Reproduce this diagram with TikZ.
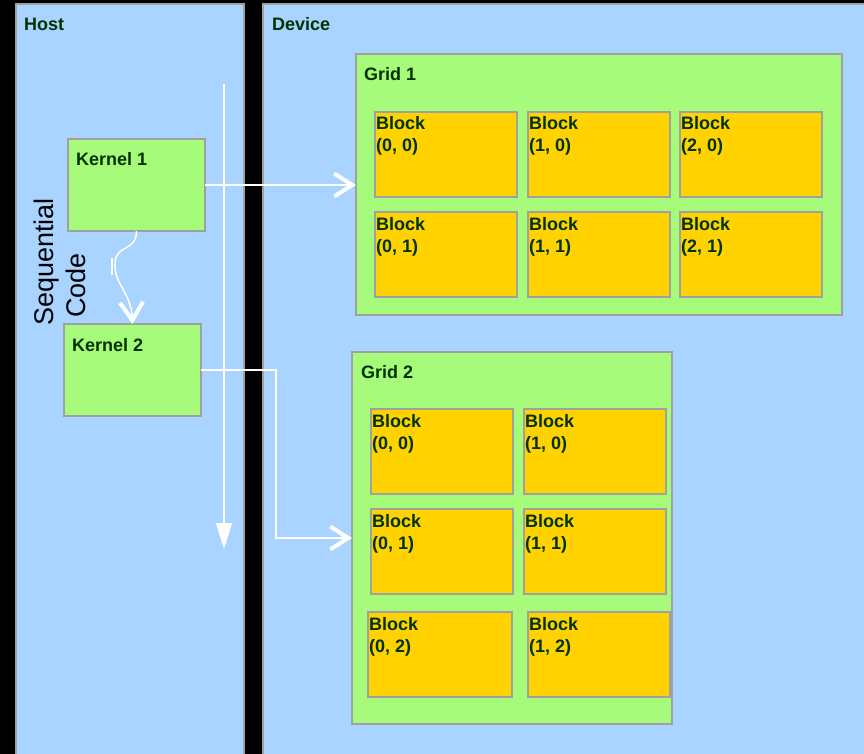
\documentclass[tikz,border=0pt]{standalone}
\usepackage{fontspec}
\setmainfont{Liberation Sans}
\usetikzlibrary{arrows.meta}

\definecolor{panelblue}{RGB}{168,212,255}
\definecolor{boxgreen}{RGB}{166,251,122}
\definecolor{blockyellow}{RGB}{255,210,0}
\definecolor{edgegray}{RGB}{160,160,160}
\definecolor{labelgreen}{RGB}{0,51,0}

\tikzset{
  framebox/.style={rectangle, draw=edgegray, line width=2pt, inner sep=0pt,
    outer sep=0pt, anchor=north west},
  panel/.style={framebox, fill=panelblue},
  greenbox/.style={framebox, fill=boxgreen},
  blockbox/.style={framebox, fill=blockyellow, minimum width=#1, minimum height=85pt},
  blockbox/.default=142pt,
  title/.style={font=\bfseries\fontsize{18}{22}\selectfont, text=labelgreen,
    anchor=base west, inner sep=0pt},
  blocklabel/.style={title, align=left},
  wire/.style={draw=white, line width=2pt},
  barb/.style={-{Straight Barb[length=18pt,width=23pt,line width=4pt]}},
}

% one CUDA block: name, x, y, width, index label
% (the label node's base is the baseline of its last line)
\newcommand\cudablock[5]{%
  \node[blockbox=#4] (#1) at (#2,#3) {};
  \node[blocklabel] (#1-t) at ([shift={(1,40)}]#1.north west) {Block\\#5};
}

\begin{document}
\begin{tikzpicture}[x=1pt,y=-1pt]
  \fill[black] (0,0) rectangle (864,754);
  \useasboundingbox (0,0) rectangle (864,754);

  % host and device panels
  \node[panel, minimum width=228pt, minimum height=770pt] (host) at (16,4) {};
  \node[panel, minimum width=620pt, minimum height=770pt] (device) at (263,4) {};
  \node[title] (host-t) at (24,31) {Host};
  \node[title] (device-t) at (272,31) {Device};

  % kernels on the host
  \node[greenbox, minimum width=137pt, minimum height=92pt] (k1) at (68,139) {};
  \node[title] (k1-t) at (76,166) {Kernel 1};
  \node[greenbox, minimum width=137pt, minimum height=92pt] (k2) at (64,324) {};
  \node[title] (k2-t) at (72,351) {Kernel 2};

  \node[rotate=90, anchor=base west, align=left, inner sep=0pt,
        font=\fontsize{27}{32}\selectfont] (seq) at (85,326)
        {Sequential\\\hspace*{8pt}Code};

  % grid 1
  \node[greenbox, minimum width=486pt, minimum height=261pt] (g1) at (356,54) {};
  \node[title] (g1-t) at (364,81) {Grid 1};
  \cudablock{g1b00}{375}{112}{142pt}{(0, 0)}
  \cudablock{g1b10}{528}{112}{142pt}{(1, 0)}
  \cudablock{g1b20}{680}{112}{142pt}{(2, 0)}
  \cudablock{g1b01}{375}{212}{142pt}{(0, 1)}
  \cudablock{g1b11}{528}{212}{142pt}{(1, 1)}
  \cudablock{g1b21}{680}{212}{142pt}{(2, 1)}

  % grid 2
  \node[greenbox, minimum width=320pt, minimum height=372pt] (g2) at (352,352) {};
  \node[title] (g2-t) at (361,378) {Grid 2};
  \cudablock{g2b00}{371}{409}{142pt}{(0, 0)}
  \cudablock{g2b10}{524}{409}{142pt}{(1, 0)}
  \cudablock{g2b01}{371}{509}{142pt}{(0, 1)}
  \cudablock{g2b11}{524}{509}{142pt}{(1, 1)}
  \cudablock{g2b02}{368}{612}{144pt}{(0, 2)}
  \cudablock{g2b12}{528}{612}{142pt}{(1, 2)}

  % host timeline
  \coordinate (tstart) at (224,84);
  \coordinate (tend) at (224,549);
  \draw[wire, -{Triangle[length=26pt,width=16pt]}] (tstart) -- (tend);

  % kernel launches
  \draw[wire, barb] (k1.east) -- (k1.east -| g1.west);
  \coordinate (turn) at (276,538);
  \draw[wire, barb] (k2.east) -| (turn) -- (turn -| g2.west);

  % sequential flow from kernel 1 to kernel 2
  \coordinate (mid) at (115,263);
  \draw[draw=white, line width=1.5pt,
        -{Straight Barb[length=18pt,width=23pt,line width=4pt]}]
    (k1.south) .. controls (136.5,252) and (116,244) .. (mid)
               .. controls (114,285) and (131,292) .. (k2.north);
  \coordinate (tickA) at (112,258);
  \coordinate (tickB) at (112,275);
  \draw[draw=white, line width=1.5pt] (tickA) -- (tickB);
\end{tikzpicture}
\end{document}
